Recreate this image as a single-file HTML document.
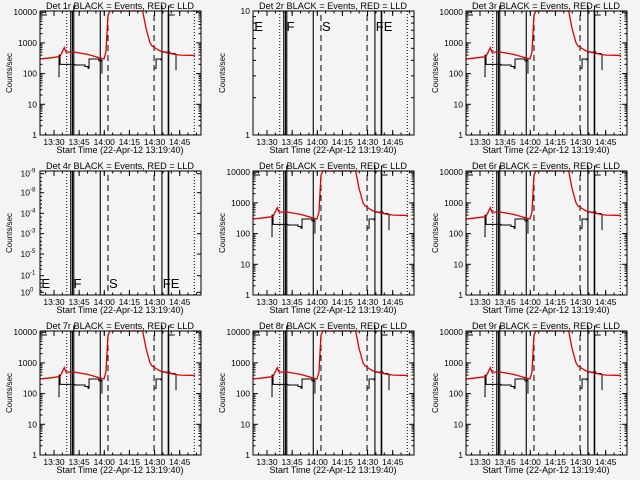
<!DOCTYPE html>
<html><head><meta charset="utf-8"><style>
body{margin:0;background:#f4f4f4}
svg{display:block}
text{font-family:"Liberation Sans",sans-serif;fill:#000}
</style></head><body>
<svg id="c" width="640" height="480" viewBox="0 0 640 480"></svg>
<script>
// Time in minutes relative to 13:30
const xTickLabels = ["13:30","13:45","14:00","14:15","14:30","14:45"];
const xTickMinutes = [0,15,30,45,60,75];
const redTimes = [-8.35,-1.19,3.58,6.15,7.16,12.5,20.3,26.8,29.8,31.0,32.2,33.4,52.9,54.9,57.3,58.5,63.2,69.2,75.2,84.1];
const redCounts = [300,330,360,700,500,500,420,330,300,500,8000,12000,12000,3000,1000,800,550,450,400,390];
const blackTimes1 = [2.6,3.0,3.6,4.8,12.5,18.5,20.3,20.9,26.8,28.0,28.6];
const blackCounts1 = [80,400,200,200,190,170,150,300,260,280,100];
const blackTimes2 = [59.7,60.9,63.8,64.4,69.2,72.2,72.8];
const blackCounts2 = [150,300,280,500,450,420,130];
const detectors = ["1r","2r","3r","4r","5r","6r","7r","8r","9r"];
const solidLines = [10.0,11.0,11.8,27.6,64.4,68.3];
const dashedLines = [32.2,59.7];
const dottedLines = [7.6,83.7];

const NS="http://www.w3.org/2000/svg";
const svg=document.getElementById('c');
function el(tag,attrs,parent){const e=document.createElementNS(NS,tag);for(const k in attrs)e.setAttribute(k,attrs[k]);(parent||svg).appendChild(e);return e;}

detectors.forEach((det,i)=>{
  const ox=(i%3)*213, oy=Math.floor(i/3)*160;
  const g=el('g',{transform:`translate(${ox},${oy})`});
  
  
  const L=40,R=201,T=11,B=135;
  const xs=m=>54+m*1.676;
  const mode = det==="2r"?"lin10":(det==="4r"?"empty":"log");
  const ys = v=>135-Math.log10(v)*30.7;
  const t=el('text',{x:120,y:9,'font-size':9.2,'text-anchor':'middle'},g);
  t.textContent=`Det ${det} BLACK = Events, RED = LLD`;
  
  
  xTickMinutes.forEach((m,j)=>{
    const tx=el('text',{x:xs(m),y:145,'font-size':8.5,'text-anchor':'middle'},g);
    tx.textContent=xTickLabels[j];
    
    
    el('line',{x1:xs(m),x2:xs(m),y1:B,y2:B-5,stroke:'#000','stroke-width':1},g);
    el('line',{x1:xs(m),x2:xs(m),y1:T,y2:T+5,stroke:'#000','stroke-width':1},g);
  });
  for(let m=-5;m<=85;m+=5){const x=xs(m);if(x<L||x>R)continue;
    el('line',{x1:x,x2:x,y1:B,y2:B-2.5,stroke:'#000'},g);el('line',{x1:x,x2:x,y1:T,y2:T+2.5,stroke:'#000'},g);}
  const xt=el('text',{x:120,y:153,'font-size':9,'text-anchor':'middle'},g);
  xt.textContent="Start Time (22-Apr-12 13:19:40)";
  
  
  const yt=el('text',{x:0,y:0,'font-size':8,'text-anchor':'middle',transform:`translate(12,73) rotate(-90)`},g);
  yt.textContent="Counts/sec";
  
  
  if(mode==="log"){
    ["1","10","100","1000","10000"].forEach((lab,d)=>{
      const y=ys(Math.pow(10,d));
      const tx=el('text',{x:37,y:y+3,'font-size':8.5,'text-anchor':'end'},g);tx.textContent=lab;
      
      el('line',{x1:L,x2:L+5,y1:y,y2:y,stroke:'#000'},g);el('line',{x1:R,x2:R-5,y1:y,y2:y,stroke:'#000'},g);
      if(d<4)for(let k=2;k<10;k++){const yy=ys(k*Math.pow(10,d));
        el('line',{x1:L,x2:L+2.5,y1:yy,y2:yy,stroke:'#000'},g);el('line',{x1:R,x2:R-2.5,y1:yy,y2:yy,stroke:'#000'},g);}
    });
  } else if(mode==="lin10"){
    const yl=v=>135-Math.log10(v)*124;
    [["1",1],["10",10]].forEach(([lab,v])=>{const tx=el('text',{x:37,y:yl(v)+3,'font-size':8.5,'text-anchor':'end'},g);tx.textContent=lab;
      });
    for(let k=2;k<10;k++){const yy=yl(k);el('line',{x1:L,x2:L+3,y1:yy,y2:yy,stroke:'#000'},g);el('line',{x1:R,x2:R-3,y1:yy,y2:yy,stroke:'#000'},g);}
  } else {
    const ticks=[13.7,32.7,53.3,73.7,94,115.7,132.3];
    const exps=["-9","-8","-4","-3","-5","-1","0"];
    ticks.forEach((y,j)=>{
      const tx=el('text',{x:30,y:y+3,'font-size':8.5,'text-anchor':'end'},g);tx.textContent="10";
      
      const sp=el('text',{x:30,y:y-1,'font-size':6},g);sp.textContent=exps[j];
      el('line',{x1:L,x2:L+4,y1:y,y2:y,stroke:'#000'},g);el('line',{x1:R,x2:R-4,y1:y,y2:y,stroke:'#000'},g);
      for(let k=1;k<5;k++){const yy=y+k*3.8;if(yy>B)break;el('line',{x1:L,x2:L+2,y1:yy,y2:yy,stroke:'#000'},g);}
    });
  }
  solidLines.forEach((m,j)=>el('line',{x1:xs(m),x2:xs(m),y1:T,y2:B,stroke:'#000','stroke-width':j==5?1.6:1.1},g));
  dashedLines.forEach(m=>el('line',{x1:xs(m),x2:xs(m),y1:T+4,y2:B,stroke:'#000','stroke-dasharray':'6,4'},g));
  dottedLines.forEach(m=>el('line',{x1:xs(m),x2:xs(m),y1:T,y2:B,stroke:'#000','stroke-dasharray':'1,2'},g));
  if(mode!=="log"){
    const ly = det==="2r"?31:128;
    [["E",-7.8],["F",11.3],["S",32.5],["FE",64.6]].forEach(([s,m])=>{
      const tx=el('text',{x:xs(m)+0.5,y:ly,'font-size':13},g);tx.textContent=s;
      });
  } else {
    el('polyline',{points:`${L},15 ${L+7},15`,fill:'none',stroke:'#000'},g);
    el('polyline',{points:`${xs(11.8)},${T} ${xs(11.8)},6 ${xs(13)},6`,fill:'none',stroke:'#000'},g);
    el('polyline',{points:`${xs(64.4)},${T} ${xs(64.4)},6 ${xs(64.8)},6`,fill:'none',stroke:'#000'},g);
    el('polyline',{points:`${xs(68.3)},15 ${xs(68.3)},6 ${xs(70)},6`,fill:'none',stroke:'#000'},g);
    el('polyline',{points:`${xs(68.3)},15 ${xs(72)},15`,fill:'none',stroke:'#000'},g);
    [[blackTimes1,blackCounts1],[blackTimes2,blackCounts2]].forEach(([tt,cc])=>{
      let pts=[];tt.forEach((m,j)=>{pts.push(xs(m)+','+ys(cc[j]));if(j<tt.length-1)pts.push(xs(tt[j+1])+','+ys(cc[j]));});
      const p=el('polyline',{points:pts.join(' '),fill:'none',stroke:'#000','stroke-width':1},g);
      
    });
    let pts=[];redTimes.forEach((m,j)=>{pts.push(xs(m)+','+Math.max(T,ys(redCounts[j])));});
    const p=el('polyline',{points:pts.join(' '),fill:'none',stroke:'#e00000','stroke-width':1.3},g);
    
  }
  const fr=el('rect',{x:L,y:T,width:R-L,height:B-T,fill:'none',stroke:'#000','stroke-width':1},g);
  
});
</script>
</body></html>
